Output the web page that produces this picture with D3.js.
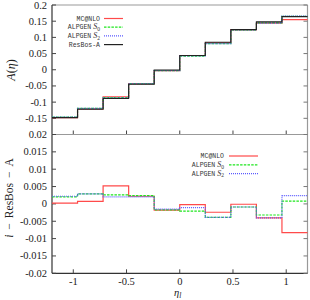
<!DOCTYPE html>
<html>
<head>
<meta charset="utf-8">
<script src="https://cdn.jsdelivr.net/npm/d3@7"></script>
<style>
  body { margin: 0; background: #fff; }
  svg { display: block; }
</style>
</head>
<body>
<svg id="chart" width="310" height="300"></svg>
<script>
// bin edges in eta_l
var binEdges = [-1.2, -0.96, -0.72, -0.48, -0.24, 0, 0.24, 0.48, 0.72, 0.96, 1.2];

// top panel: A(eta)
var resbosA = [-0.148, -0.122, -0.089, -0.045, -0.001, 0.044, 0.085, 0.124, 0.148, 0.164];
var mcnloA  = [-0.148, -0.121, -0.084, -0.043, -0.003, 0.044, 0.083, 0.124, 0.144, 0.155];
var alpS0A  = [-0.146, -0.119, -0.086, -0.043, -0.003, 0.042, 0.081, 0.123, 0.145, 0.165];
var alpS2A  = [-0.146, -0.119, -0.087, -0.043, -0.003, 0.043, 0.081, 0.123, 0.144, 0.166];

// bottom panel: i - ResBos-A
var mcnloDiff = [0.0002, 0.0007, 0.0052, 0.0022, -0.0018, -0.0002, -0.0024, -0.0001, -0.0040, -0.0083];
var alpS0Diff = [0.0020, 0.0029, 0.0026, 0.0024, -0.0017, -0.0021, -0.0039, -0.0009, -0.0032, 0.0008];
var alpS2Diff = [0.0022, 0.0029, 0.0020, 0.0020, -0.0015, -0.0011, -0.0039, -0.0009, -0.0040, 0.0024];

var xTicks = [-1, -0.5, 0, 0.5, 1];
var topTicks = [0.2, 0.15, 0.1, 0.05, 0, -0.05, -0.1, -0.15];
var botTicks = [0.02, 0.015, 0.01, 0.005, 0, -0.005, -0.01, -0.015, -0.02];

var colRed = "#ff4a4a", colGreen = "#1ee61e", colBlue = "#5a5aff", colBlack = "#222";
var serif = "'Liberation Serif', 'DejaVu Serif', serif";
var mono = "'Liberation Mono', 'DejaVu Sans Mono', monospace";

var svg = d3.select("#chart");
var left = 52, right = 307.5;
var x = d3.scaleLinear().domain([-1.2, 1.2]).range([left, right]);
var yTop = d3.scaleLinear().domain([-0.2, 0.2]).range([134.5, 5]);
var yBot = d3.scaleLinear().domain([-0.02, 0.02]).range([273.3, 134.5]);

function stepPoints(vals) {
    var pts = [];
    vals.forEach(function(v, i) {
        pts.push([binEdges[i], v]);
        pts.push([binEdges[i + 1], v]);
    });
    return pts;
}

function drawStep(yScale, vals, color, dash, width) {
    var line = d3.line()
        .x(function(d) { return x(d[0]); })
        .y(function(d) { return yScale(d[1]); });
    svg.append("path")
        .attr("d", line(stepPoints(vals)))
        .attr("fill", "none")
        .attr("stroke", color)
        .attr("stroke-width", width || 1.2)
        .style("stroke-dasharray", dash || null);
}

function drawFrame(yScale, ticks, showLabels) {
    var y0 = yScale.range()[0], y1 = yScale.range()[1];
    // top + right border lighter, left + bottom darker
    svg.append("line").attr("x1", left).attr("x2", right).attr("y1", y1).attr("y2", y1)
        .attr("stroke", "#999").attr("stroke-width", 1.2);
    svg.append("line").attr("x1", right).attr("x2", right).attr("y1", y1).attr("y2", y0)
        .attr("stroke", "#999").attr("stroke-width", 1.2);
    svg.append("line").attr("x1", left).attr("x2", left).attr("y1", y1).attr("y2", y0)
        .attr("stroke", "#333").attr("stroke-width", 1.2);
    svg.append("line").attr("x1", left).attr("x2", right).attr("y1", y0).attr("y2", y0)
        .attr("stroke", "#333").attr("stroke-width", 1.2);
    // y ticks, inward on both sides
    ticks.forEach(function(t) {
        var yy = yScale(t);
        svg.append("line").attr("x1", left).attr("x2", left + 4).attr("y1", yy).attr("y2", yy)
            .attr("stroke", "#444").attr("stroke-width", 1);
        svg.append("line").attr("x1", right).attr("x2", right - 4).attr("y1", yy).attr("y2", yy)
            .attr("stroke", "#777").attr("stroke-width", 1);
        svg.append("text")
            .attr("x", left - 5)
            .attr("y", yy + 3.5)
            .text(t)
            .style("font-family", serif)
            .style("font-size", "10.5px")
            .style("text-anchor", "end")
            .style("fill", "#222");
    });
    // x ticks, inward from bottom
    xTicks.forEach(function(t) {
        svg.append("line").attr("x1", x(t)).attr("x2", x(t)).attr("y1", y0).attr("y2", y0 - 4)
            .attr("stroke", "#444").attr("stroke-width", 1);
        if (showLabels) {
            svg.append("text")
                .attr("x", x(t))
                .attr("y", y0 + 11.5)
                .text(t)
                .style("font-family", serif)
                .style("font-size", "10.5px")
                .style("text-anchor", "middle")
                .style("fill", "#222");
        }
    });
}

function drawLegend(items, textX, lineX1, lineX2, y0, dy) {
    items.forEach(function(it, i) {
        var yy = y0 + i * dy;
        var t = svg.append("text")
            .attr("x", textX)
            .attr("y", yy + 2.2)
            .style("font-family", mono)
            .style("font-size", "6.5px")
            .style("text-anchor", "end")
            .style("fill", "#333");
        t.append("tspan").text(it.label);
        if (it.sub !== undefined) {
            t.append("tspan").text(" S")
                .style("font-family", serif).style("font-style", "italic")
                .style("font-size", "8px");
            t.append("tspan").text(it.sub).attr("dy", 1.5)
                .style("font-family", serif).style("font-size", "5.5px");
        }
        svg.append("line")
            .attr("x1", lineX1).attr("x2", lineX2).attr("y1", yy).attr("y2", yy)
            .attr("stroke", it.color).attr("stroke-width", 1.2)
            .style("stroke-dasharray", it.dash || null);
    });
}

// top panel
drawFrame(yTop, topTicks, false);
drawStep(yTop, mcnloA, colRed);
drawStep(yTop, alpS0A, colGreen, "2.5,1.2");
drawStep(yTop, alpS2A, colBlue, "1,1");
drawStep(yTop, resbosA, colBlack, null, 1.1);

// bottom panel
drawFrame(yBot, botTicks, true);
drawStep(yBot, mcnloDiff, colRed);
drawStep(yBot, alpS0Diff, colGreen, "2.5,1.2");
drawStep(yBot, alpS2Diff, colBlue, "1,1");

drawLegend([
    {label: "MC@NLO", color: colRed},
    {label: "ALPGEN", sub: "0", color: colGreen, dash: "2.5,1.2"},
    {label: "ALPGEN", sub: "2", color: colBlue, dash: "1,1"},
    {label: "ResBos-A", color: colBlack}
], 100, 104, 123, 18.5, 8.7);

drawLegend([
    {label: "MC@NLO", color: colRed},
    {label: "ALPGEN", sub: "0", color: colGreen, dash: "2.5,1.2"},
    {label: "ALPGEN", sub: "2", color: colBlue, dash: "1,1"}
], 224, 229, 258, 156, 8.8);

// axis titles
var yl1 = svg.append("text")
    .attr("transform", "translate(15,70) rotate(-90)")
    .style("font-family", serif)
    .style("font-size", "12px")
    .style("text-anchor", "middle")
    .style("fill", "#222");
yl1.append("tspan").text("A").style("font-style", "italic");
yl1.append("tspan").text("(");
yl1.append("tspan").text("η").style("font-style", "italic");
yl1.append("tspan").text(")");

var yl2 = svg.append("text")
    .attr("transform", "translate(13,198) rotate(-90)")
    .style("font-family", serif)
    .style("font-size", "11.5px")
    .style("text-anchor", "middle")
    .style("fill", "#222");
yl2.append("tspan").text("i").style("font-style", "italic");
yl2.append("tspan").text("\u2212").attr("dx", 5);
yl2.append("tspan").text("ResBos").attr("dx", 5);
yl2.append("tspan").text("\u2212").attr("dx", 5);
yl2.append("tspan").text("A").attr("dx", 5);

var xl = svg.append("text")
    .attr("x", x(0) - 2)
    .attr("y", 296)
    .style("font-family", serif)
    .style("font-size", "10.5px")
    .style("text-anchor", "middle")
    .style("fill", "#222");
xl.append("tspan").text("η").style("font-style", "italic");
xl.append("tspan").text("l").attr("dy", 2).style("font-style", "italic").style("font-size", "7.5px");
</script>
</body>
</html>
